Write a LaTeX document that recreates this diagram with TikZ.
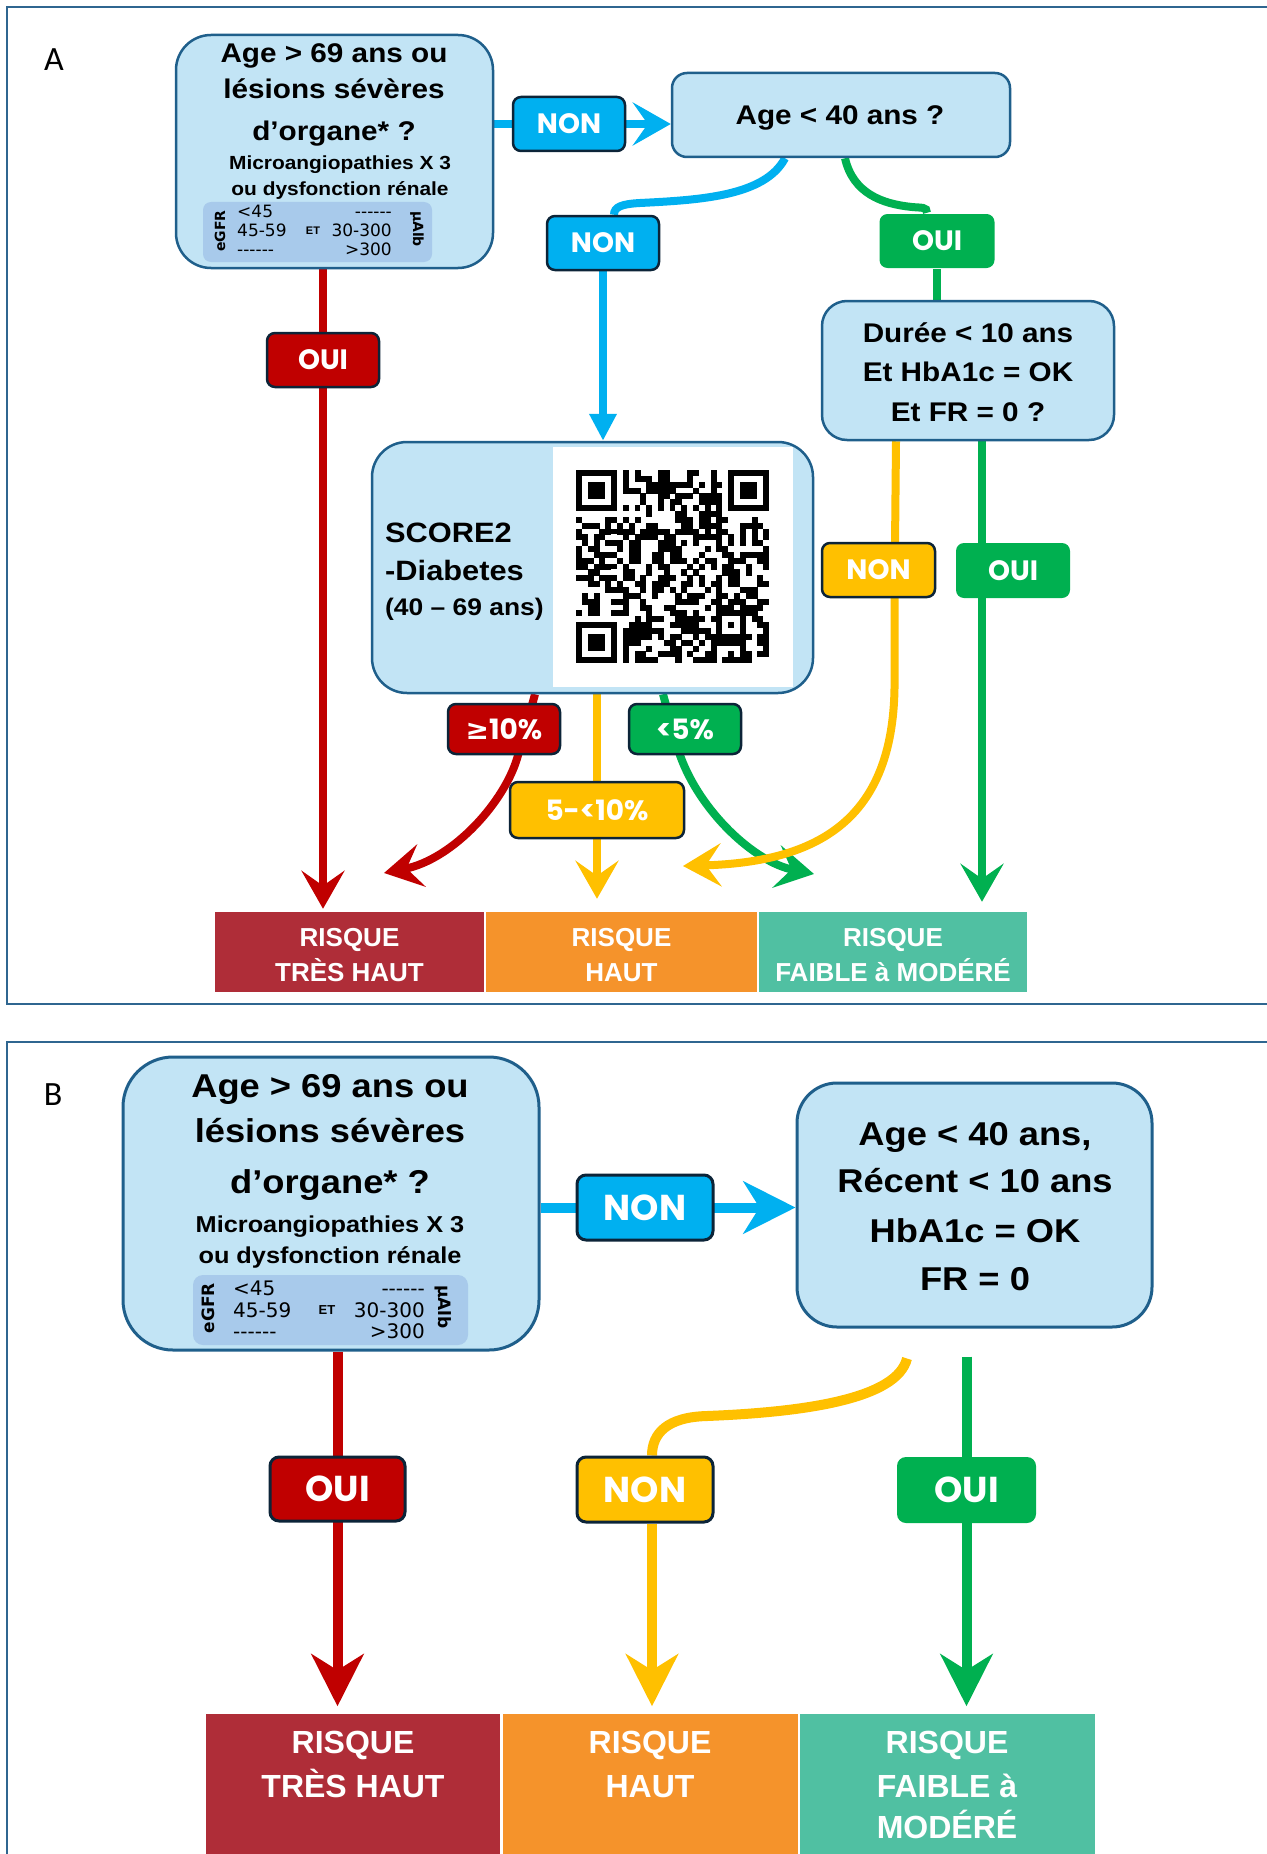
\documentclass[tikz,border=0pt]{standalone}
\usepackage{fontspec}
\setmainfont{Liberation Sans}
\newfontfamily\boxf[FakeStretch=1.1]{Liberation Sans}
\newfontfamily\riskf{Liberation Sans}
\newfontfamily\lblf{Poppins}
\newfontfamily\djv{DejaVu Sans}
\newfontfamily\carl{Carlito}
\newcommand\myfs[1]{\fontsize{#1}{#1}\selectfont}
\usetikzlibrary{arrows.meta,calc}
\pgfdeclarelayer{back}
\pgfdeclarelayer{bg}
\pgfsetlayers{back,bg,main}
\definecolor{boxfill}{HTML}{C2E4F5}
\definecolor{boxline}{HTML}{1F5F8B}
\definecolor{tabfill}{HTML}{A8CAEB}
\definecolor{lblline}{HTML}{0C2438}
\definecolor{cblue}{HTML}{00B0F0}
\definecolor{cgreen}{HTML}{00B050}
\definecolor{cred}{HTML}{C00000}
\definecolor{cyellow}{HTML}{FFC000}
\definecolor{rred}{HTML}{AF2D38}
\definecolor{rorange}{HTML}{F5932B}
\definecolor{rteal}{HTML}{50C0A2}
\definecolor{framec}{HTML}{2F6690}
\begin{document}
\begin{tikzpicture}[x=1pt,y=-1pt,
  box/.style={draw=boxline, fill=boxfill, line width=2.5pt, inner sep=0pt},
  tabbox/.style={fill=tabfill, inner sep=0pt},
  lblA/.style={rounded corners=8pt, inner sep=0pt, text=white, line width=2.5pt, font=\lblf\bfseries\myfs{28}, minimum width=112pt, minimum height=54pt},
  lblB/.style={rounded corners=9pt, inner sep=0pt, text=white, line width=3pt, font=\lblf\bfseries\myfs{36}, minimum width=136pt, minimum height=65pt},
  bd/.style={draw=lblline},
  tx/.style={anchor=base, inner sep=0pt},
  bigA/.style={tx, font=\boxf\bfseries\myfs{27}},
  smallA/.style={tx, font=\boxf\bfseries\myfs{19}},
  bigB/.style={tx, font=\boxf\bfseries\myfs{33}},
  smallB/.style={tx, font=\boxf\bfseries\myfs{23}},
  numA/.style={inner sep=0pt, font=\djv\myfs{17}},
  numB/.style={inner sep=0pt, font=\djv\myfs{20}},
  rotA/.style={inner sep=0pt, font=\djv\bfseries\myfs{14}},
  rotB/.style={inner sep=0pt, font=\djv\bfseries\myfs{17}},
  riskbox/.style={fill=#1, draw=white, line width=1.5pt, inner sep=0pt},
  riskA/.style={tx, text=white, font=\riskf\bfseries\myfs{26}},
  riskB/.style={tx, text=white, font=\riskf\bfseries\myfs{32}},
  ln/.style={line width=8pt},
  lnB/.style={line width=10pt},
  tipA/.style={-{Stealth[length=38pt,width=43pt,inset=15pt]}},
  tipB/.style={-{Stealth[length=52pt,width=52pt,inset=16pt]}},
  framest/.style={draw=framec, line width=1.5pt}
]
\useasboundingbox (0,0) rectangle (1266,1854);
\begin{pgfonlayer}{back}
\fill[white] (0,0) rectangle (1266,1854);
\end{pgfonlayer}

% ---------- frames
\draw[framest] (7,7) rectangle (1300,1004);
\draw[framest] (7,1042) rectangle (1300,1900);

% ================= PANEL A =================
\node[tx, font=\carl\myfs{34}] (labA) at (54,71) {A};

\node[box, rounded corners=35pt, minimum width=317pt, minimum height=233pt] (a1) at (334.5,151.5) {};
\node[bigA] (a1l1) at (334,63) {Age > 69 ans ou};
\node[bigA] (a1l2) at (334,99) {lésions sévères};
\node[bigA] (a1l3) at (334,141) {d’organe* ?};
\node[smallA] (a1l4) at (340,170) {Microangiopathies X 3};
\node[smallA] (a1l5) at (340,196) {ou dysfonction rénale};
\node[tabbox, rounded corners=8pt, minimum width=229pt, minimum height=60pt] (a1tab) at (317.5,232) {};
\node[rotA, rotate=90] (a1egfr) at (220,231) {eGFR};
\node[numA, anchor=base west] (a1n1) at (237,217) {<45};
\node[numA, anchor=base west] (a1n2) at (237,236) {45-59};
\node[numA, anchor=base west] (a1n3) at (237,255) {------};
\node[inner sep=0pt, font=\riskf\bfseries\myfs{11}] (a1et) at (313,231) {ET};
\node[numA, anchor=base east] (a1m1) at (392,217) {------};
\node[numA, anchor=base east] (a1m2) at (392,236) {30-300};
\node[numA, anchor=base east] (a1m3) at (392,255) {>300};
\node[rotA, rotate=-90] (a1alb) at (417,229) {µAlb};

\node[box, rounded corners=15pt, minimum width=338pt, minimum height=84pt] (a2) at (841,115) {};
\node[bigA] (a2l1) at (840,125) {Age < 40 ans ?};

\node[lblA, bd, fill=cblue] (nonA1) at (569,124) {NON};
\node[lblA, bd, fill=cblue] (nonA2) at (603,243) {NON};
\node[lblA, fill=cgreen, minimum width=115pt] (ouiA1) at (937,241) {OUI};

\node[box, rounded corners=25pt, minimum width=292pt, minimum height=139pt] (dur) at (968,370.5) {};
\node[bigA] (durl1) at (968,342) {Durée < 10 ans};
\node[bigA] (durl2) at (968,381) {Et HbA1c = OK};
\node[bigA] (durl3) at (968,421) {Et FR = 0 ?};

\node[lblA, bd, fill=cred] (ouiA2) at (323,360) {OUI};

\node[box, rounded corners=35pt, minimum width=441pt, minimum height=251pt] (score) at (592.5,567.5) {};
\node[fill=white, inner sep=0pt, minimum width=240pt, minimum height=240pt] (qrbg) at (673,567) {};
\node[tx, anchor=base west, font=\boxf\bfseries\myfs{28}] (scl1) at (385,542) {SCORE2};
\node[tx, anchor=base west, font=\boxf\bfseries\myfs{28}] (scl2) at (385,580) {-Diabetes};
\node[tx, anchor=base west, font=\boxf\bfseries\myfs{24}] (scl3) at (385,615) {(40 – 69 ans)};

% QR code
\begin{scope}[shift={(576pt,-470pt)}, x=5.85pt, y=-5.85pt]
  \pgfmathsetseed{7}
  \foreach \i in {0,...,32}{
    \foreach \j in {0,...,32}{
      \pgfmathtruncatemacro\res{((\i<8)&&(\j<8))||((\i>24)&&(\j<8))||((\i<8)&&(\j>24))||((\i>23)&&(\i<29)&&(\j>23)&&(\j<29))||(\i==6)||(\j==6)}
      \ifnum\res=0
        \pgfmathrandominteger{\rr}{0}{1}
        \ifnum\rr=1 \fill (\i,\j) rectangle ++(1.04,1.04);\fi
      \fi
    }
  }
  \foreach \x/\y in {0/0,26/0,0/26}{
    \fill (\x,\y) rectangle ++(7,7);
    \fill[white] (\x+1,\y+1) rectangle ++(5,5);
    \fill (\x+2,\y+2) rectangle ++(3,3);
  }
  \foreach \k in {8,10,...,24}{
    \fill (\k,6) rectangle ++(1,1);
    \fill (6,\k) rectangle ++(1,1);
  }
  \fill (24,24) rectangle ++(5,5);
  \fill[white] (25,25) rectangle ++(3,3);
  \fill (26,26) rectangle ++(1,1);
\end{scope}

\node[lblA, bd, fill=cyellow, minimum width=113pt] (nonA3) at (878.5,570) {NON};
\node[lblA, fill=cgreen, minimum width=114pt, minimum height=55pt] (ouiA3) at (1013,570.5) {OUI};

\node[lblA, bd, fill=cred, minimum height=50pt] (p10) at (504,729) {{\djv ≥}10\%};
\node[lblA, bd, fill=cgreen, minimum height=50pt] (p5) at (685,729) {<5\%};
\node[lblA, bd, fill=cyellow, minimum width=174pt, minimum height=56pt] (p510) at (597,810) {5-<10\%};

\node[riskbox=rred, minimum width=271pt, minimum height=81pt] (rA1) at (349.5,952) {};
\node[riskbox=rorange, minimum width=273pt, minimum height=81pt] (rA2) at (621.5,952) {};
\node[riskbox=rteal, minimum width=270pt, minimum height=81pt] (rA3) at (893,952) {};
\node[riskA] (rA1a) at (349.5,946) {RISQUE};
\node[riskA] (rA1b) at (349.5,981) {TRÈS HAUT};
\node[riskA] (rA2a) at (621.5,946) {RISQUE};
\node[riskA] (rA2b) at (621.5,981) {HAUT};
\node[riskA] (rA3a) at (893,946) {RISQUE};
\node[riskA] (rA3b) at (893,981) {FAIBLE à MODÉRÉ};

\coordinate (tipR) at (384,873);
\coordinate (tipG) at (814,874);
\coordinate (tipY) at (683,866);

% ================= PANEL B =================
\node[tx, font=\carl\myfs{34}] (labB) at (53,1105) {B};

\node[box, line width=3pt, rounded corners=50pt, minimum width=416pt, minimum height=293pt] (b1) at (331,1203.5) {};
\node[bigB] (b1l1) at (330,1097) {Age > 69 ans ou};
\node[bigB] (b1l2) at (330,1142) {lésions sévères};
\node[bigB] (b1l3) at (330,1193) {d’organe* ?};
\node[smallB] (b1l4) at (330,1232) {Microangiopathies X 3};
\node[smallB] (b1l5) at (330,1263) {ou dysfonction rénale};
\node[tabbox, rounded corners=10pt, minimum width=275pt, minimum height=70pt] (b1tab) at (330.5,1310) {};
\node[rotB, rotate=90] (b1egfr) at (208,1308) {eGFR};
\node[numB, anchor=base west] (b1n1) at (233,1295) {<45};
\node[numB, anchor=base west] (b1n2) at (233,1317) {45-59};
\node[numB, anchor=base west] (b1n3) at (233,1338) {------};
\node[inner sep=0pt, font=\riskf\bfseries\myfs{13}] (b1et) at (327,1310) {ET};
\node[numB, anchor=base east] (b1m1) at (425,1295) {------};
\node[numB, anchor=base east] (b1m2) at (425,1317) {30-300};
\node[numB, anchor=base east] (b1m3) at (425,1338) {>300};
\node[rotB, rotate=-90] (b1alb) at (443,1307) {µAlb};

\node[box, line width=3pt, rounded corners=40pt, minimum width=355pt, minimum height=244pt] (b2) at (974.5,1205) {};
\node[bigB] (b2l1) at (975,1145) {Age < 40 ans,};
\node[bigB] (b2l2) at (975,1192) {Récent < 10 ans};
\node[bigB] (b2l3) at (975,1242) {HbA1c = OK};
\node[bigB] (b2l4) at (975,1290) {FR = 0};

\node[lblB, bd, fill=cblue] (nonB1) at (645,1207.5) {NON};
\node[lblB, bd, fill=cred, minimum width=135pt, minimum height=64pt] (ouiB1) at (337.5,1489) {OUI};
\node[lblB, bd, fill=cyellow] (nonB2) at (645,1489.5) {NON};
\node[lblB, fill=cgreen, minimum width=139pt, minimum height=66pt] (ouiB2) at (966.5,1490) {OUI};

\node[riskbox=rred, minimum width=296pt, minimum height=187pt] (rB1) at (353,1806.5) {};
\node[riskbox=rorange, minimum width=297pt, minimum height=187pt] (rB2) at (650.5,1806.5) {};
\node[riskbox=rteal, minimum width=297pt, minimum height=187pt] (rB3) at (947.5,1806.5) {};
\node[riskB] (rB1a) at (353,1753) {RISQUE};
\node[riskB] (rB1b) at (353,1797) {TRÈS HAUT};
\node[riskB] (rB2a) at (650,1753) {RISQUE};
\node[riskB] (rB2b) at (650,1797) {HAUT};
\node[riskB] (rB3a) at (947,1753) {RISQUE};
\node[riskB] (rB3b) at (947,1797) {FAIBLE à};
\node[riskB] (rB3c) at (947,1838) {MODÉRÉ};

% ================= CONNECTORS =================
\begin{pgfonlayer}{bg}
% panel A
\draw[ln, cblue, tipA] (a1.east |- nonA1) -- (a2.west |- nonA1);
\draw[ln, cblue] ([xshift=-56pt]a2.south) .. controls +(-20,38) and +(60,-3) .. (640,203) .. controls +(-18,1) and +(0,-8) .. ([xshift=11pt]nonA2.north);
\draw[ln, cblue, -{Triangle[length=27pt,width=26pt]}] (nonA2.south) -- (score.north -| nonA2);
\draw[ln, cgreen] ([xshift=4pt]a2.south) .. controls +(8,35) and +(-30,-3) .. (912,207) .. controls +(10,1) and +(0,-6) .. ([xshift=-10pt]ouiA1.north);
\draw[ln, cgreen] (ouiA1.south) -- (dur.north -| ouiA1);
\draw[ln, cred, tipA, shorten >=2pt] (a1.south -| ouiA2) -- (rA1.north -| ouiA2);
\draw[ln, cred, tipA] ([xshift=-57.5pt]score.south) -- ([xshift=14pt]p10.south) .. controls +(-12,45) and +(70,-14) .. (tipR);
\draw[ln, cyellow, tipA, shorten >=12pt] (score.south -| p510) -- (rA2.north -| p510);
\draw[ln, cgreen, tipA] ([xshift=70.5pt]score.south) -- ([xshift=-5pt]p5.south) .. controls +(20,56) and +(-60,-12) .. (tipG);
\draw[ln, cyellow, tipA] ([xshift=-72pt]dur.south) -- ([xshift=16pt]nonA3.south) -- ++(0,90) .. controls +(-2,130) and +(137,-4) .. (tipY);
\draw[ln, cgreen, tipA, shorten >=9pt] ([xshift=14pt]dur.south) -- ($(dur.south |- rA3.north)+(14,0)$);
% panel B
\draw[lnB, cblue, tipB] (b1.east |- nonB1) -- (b2.west |- nonB1);
\draw[lnB, cred, tipB, shorten >=6pt] (b1.south -| ouiB1) -- (rB1.north -| ouiB1);
\draw[lnB, cyellow] ($(b2.south)+(-67.5,30)$) .. controls +(-10,40) and +(100,-4) .. (707,1416) .. controls +(-40,1) and +(0,-22) .. ($(nonB2.north)+(7,0)$);
\draw[lnB, cyellow, tipB, shorten >=6pt] ($(nonB2.south)+(7,0)$) -- ($(nonB2.south |- rB2.north)+(7,0)$);
\draw[lnB, cgreen, tipB, shorten >=6pt] ($(b2.south -| ouiB2)+(0,28)$) -- (rB3.north -| ouiB2);
\end{pgfonlayer}
\end{tikzpicture}
\end{document}
